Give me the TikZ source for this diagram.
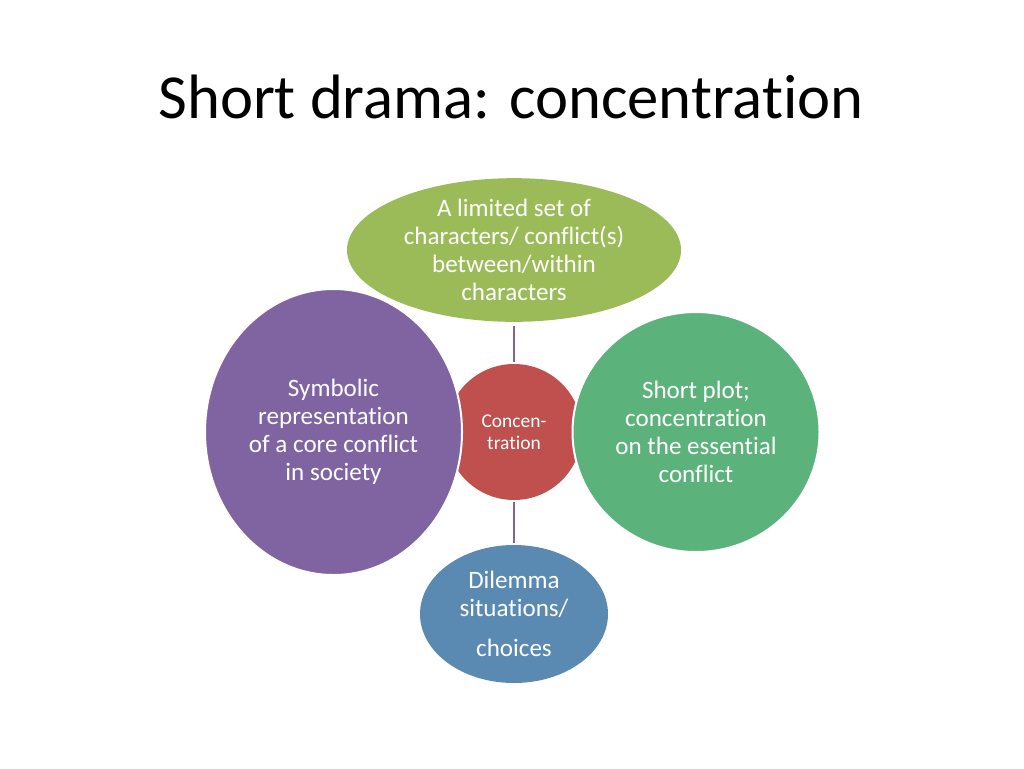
\documentclass[tikz,border=0pt]{standalone}
\usepackage{fontspec}
\setmainfont[RawFeature=-liga]{Carlito}
\usetikzlibrary{shapes.geometric}
\definecolor{topgreen}{HTML}{9BBB59}
\definecolor{purp}{HTML}{8064A2}
\definecolor{redc}{HTML}{C0504D}
\definecolor{rgreen}{HTML}{5BB37B}
\definecolor{bluec}{HTML}{5A8AB2}
\tikzset{
  bubble/.style={ellipse, inner sep=0pt, text=white, align=center,
    font=\fontsize{18.8pt}{21pt}\selectfont},
  whiteedge/.style={draw=white, line width=1.5pt},
  conn/.style={draw=purp, line width=1.5pt},
}
\begin{document}
\begin{tikzpicture}[x=0.75pt,y=-0.75pt]
\useasboundingbox (0,0) rectangle (1024,768);
\fill[white] (0,0) rectangle (1024,768);
\node[anchor=base, font=\fontsize{47pt}{52pt}\selectfont] (title) at (511,118) {Short drama: concentration};
% central circle
\node[bubble, circle, fill=redc, minimum size=102pt, font=\fontsize{14.6pt}{16.5pt}\selectfont] (center) at (514,432) {Concen-\\tration};
% side ellipses over the circle
\node[bubble, fill=purp, whiteedge, minimum width=192.75pt, minimum height=214.5pt] (left) at (333.5,432) {Symbolic\\representation\\of a core conflict\\in society};
\node[bubble, fill=rgreen, whiteedge, minimum width=185.25pt, minimum height=180pt] (right) at (696,432) {Short plot;\\concentration\\on the essential\\conflict};
\node[bubble, fill=topgreen, minimum width=250.5pt, minimum height=102pt] (top) at (514,250) {A limited set of\\characters/ conflict(s)\\between/within\\characters};
\node[bubble, fill=bluec, minimum width=141pt, minimum height=103.5pt] (bottom) at (514,614) {Dilemma\\situations/\\[9pt]choices};
\draw[conn, shorten <=3pt, shorten >=1pt] (top.south) -- (center.north);
\draw[conn, shorten <=1.5pt, shorten >=1.5pt] (center.south) -- (bottom.north);
\end{tikzpicture}
\end{document}
